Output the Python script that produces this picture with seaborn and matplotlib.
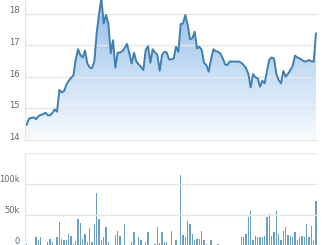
import numpy as np
import pandas as pd
import matplotlib
matplotlib.use("Agg")
import matplotlib.pyplot as plt
import seaborn as sns
from matplotlib.transforms import ScaledTranslation
from matplotlib.colors import to_rgb

# ---------------- data ----------------
price = [14.48, 14.68, 14.70, 14.72, 14.66, 14.75, 14.80, 14.81, 14.87, 14.79,
         14.78, 14.86, 14.97, 14.90, 15.59, 15.51, 15.55, 15.75, 15.88, 15.97,
         16.05, 16.55, 16.88, 16.70, 16.62, 16.84, 16.43, 16.30, 16.28, 16.50,
         17.40, 18.00, 18.50, 17.70, 17.97, 17.70, 16.75, 17.17, 16.30, 16.77,
         16.78, 16.82, 16.92, 17.05, 16.75, 16.43, 16.77, 16.49, 16.40, 16.32,
         16.22, 16.86, 16.98, 16.45, 16.88, 16.78, 16.70, 16.20, 16.70, 16.80,
         16.78, 16.56, 16.56, 16.59, 16.96, 16.80, 17.68, 17.70, 17.97, 17.65,
         17.20, 17.23, 17.44, 16.91, 16.96, 16.86, 16.45, 16.38, 16.17, 16.55,
         16.88, 16.82, 16.80, 16.75, 16.60, 16.40, 16.38, 16.49, 16.49, 16.49,
         16.49, 16.49, 16.45, 16.38, 16.28, 16.10, 15.67, 16.09, 15.99, 15.96,
         15.69, 15.88, 15.80, 16.20, 16.55, 16.62, 16.59, 16.10, 15.90, 15.80,
         16.19, 16.01, 16.10, 16.22, 16.35, 16.68, 16.62, 16.59, 16.54, 16.49,
         16.50, 16.54, 16.50, 16.49, 17.39]

volume_k = [4, 0, 0, 0, 14, 10, 15, 0, 0, 6,
            11, 6, 0, 14, 39, 11, 9, 10, 20, 16,
            3, 8, 43, 37, 11, 19, 7, 29, 6, 35,
            85, 44, 10, 14, 31, 6, 0, 0, 17, 25,
            16, 0, 36, 0, 0, 6, 22, 0, 14, 10,
            0, 6, 23, 0, 0, 3, 31, 5, 23, 7,
            6, 0, 25, 0, 10, 0, 114, 17, 14, 41,
            35, 19, 10, 12, 12, 24, 10, 4, 0, 9,
            0, 0, 4, 0, 0, 0, 0, 0, 2, 0,
            0, 0, 15, 15, 20, 47, 57, 10, 16, 14,
            14, 14, 16, 46, 52, 16, 22, 56, 20, 10,
            25, 30, 17, 16, 14, 22, 10, 14, 16, 15,
            35, 14, 32, 8, 73]

price_ticks = [14, 15, 16, 17, 18]
price_tick_labels = ["14", "15", "16", "17", "18"]
volume_ticks = [0, 50000, 100000, 150000]
volume_tick_labels = ["0", "50k", "100k", ""]

# ---------------- figure ----------------
sns.set_style("white")
plt.rcParams["font.family"] = ["DejaVu Sans"]

W, H = 326, 245
fig = plt.figure(figsize=(W / 100, H / 100), dpi=100)
ax1 = fig.add_axes([25 / W, (H - 140) / H, 292 / W, 140 / H])
ax2 = fig.add_axes([25 / W, (H - 246) / H, 292 / W, 93 / H])

df = pd.DataFrame({"i": np.arange(len(price)),
                   "price": price,
                   "volume": np.array(volume_k) * 1000})

xmin, xmax = -0.73, len(price) - 1 + 0.43
ymin, ymax = 14, 14 + 140 / 31.5

# gradient area fill under the price line
poly = ax1.fill_between(df["i"], df["price"], ymin, color="none", lw=0)
top_c = np.array(to_rgb("#94bee9"))
bot_c = np.array(to_rgb("#f8fbfe"))
t = np.linspace(0, 1, 256)[:, None]
img = (top_c * (1 - t) + bot_c * t).reshape(256, 1, 3)
im = ax1.imshow(img, extent=[xmin, xmax, ymin, ymax], aspect="auto",
                origin="upper", zorder=0.5)
im.set_clip_path(poly.get_paths()[0], ax1.transData)
poly.set_visible(False)

sns.lineplot(data=df, x="i", y="price", ax=ax1, color="#3f7fb1",
             linewidth=1.4, zorder=3)

sns.barplot(data=df, x="i", y="volume", ax=ax2, color="#6a9ec4",
            native_scale=True, width=0.65, saturation=1, linewidth=0)

for ax, ticks, labels, ylim, dy in [
        (ax1, price_ticks, price_tick_labels, (ymin, ymax), 0.04),
        (ax2, volume_ticks, volume_tick_labels, (0, 147600), 0.055)]:
    ax.set_xlim(xmin, xmax)
    ax.set_ylim(*ylim)
    ax.set_yticks(ticks)
    ax.set_yticklabels(labels)
    ax.set_xticks([])
    ax.set_xlabel("")
    ax.set_ylabel("")
    ax.grid(axis="y", color="#e6e6e6", linewidth=1)
    ax.set_axisbelow("line")
    ax.tick_params(axis="y", length=0, labelsize=6, labelcolor="#666666", pad=4)
    for s in ["top", "right", "bottom"]:
        ax.spines[s].set_visible(False)
    ax.spines["left"].set_color("#e2e8f0")
    ax.spines["left"].set_linewidth(1)
    off = ScaledTranslation(0, dy, fig.dpi_scale_trans)
    for lbl in ax.get_yticklabels():
        lbl.set_transform(lbl.get_transform() + off)

ax1.spines["bottom"].set_visible(True)
ax1.spines["bottom"].set_color("#e6e6e6")

fig.savefig("out.png", dpi=100)
